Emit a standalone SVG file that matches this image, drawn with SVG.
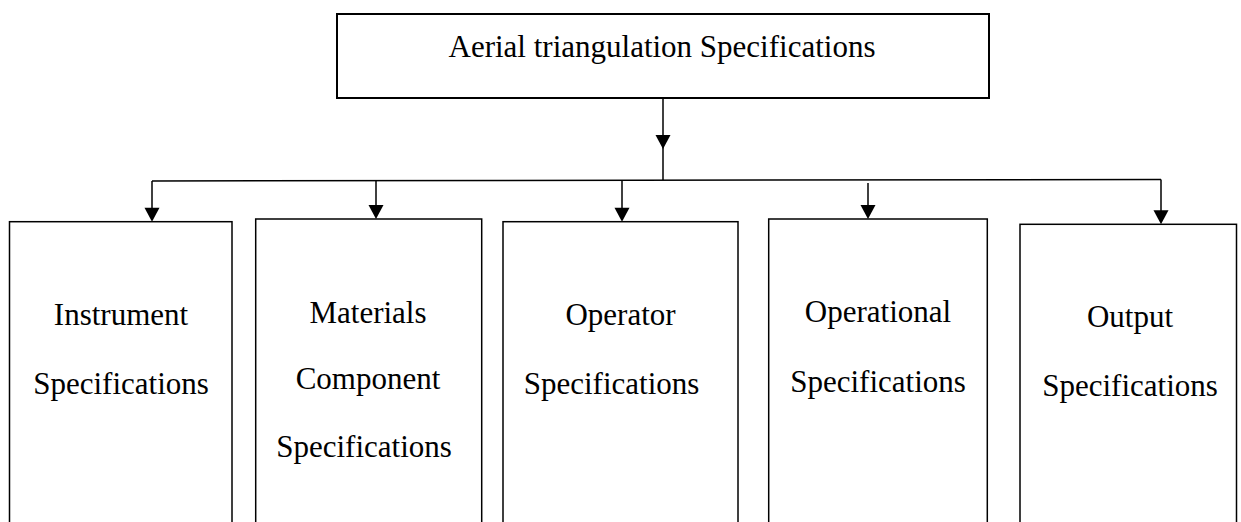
<svg xmlns="http://www.w3.org/2000/svg" width="1241" height="522" viewBox="0 0 1241 522">
  <style>
    .box { fill: #fff; stroke: #000; stroke-width: 1.5; }
    .top { fill: #fff; stroke: #000; stroke-width: 2; }
    .lbl { font-family: "Liberation Serif", "Times New Roman", serif; font-size: 31px; fill: #000; text-anchor: middle; }
    .wire { fill: none; stroke: #000; stroke-width: 1.5; }
    .head { fill: #000; }
  </style>
  <defs>
    <!-- downward arrowhead, tip at the origin -->
    <path id="tip" class="head" d="M-7.5,-14 L7.5,-14 L0,0 Z"/>
  </defs>
  <rect width="1241" height="522" fill="#fff"/>

  <g id="root">
    <rect class="top" x="337" y="14" width="652" height="84"/>
    <text class="lbl" x="662" y="57">Aerial triangulation Specifications</text>
  </g>

  <g id="connectors">
    <!-- trunk from root down to the bus, arrowhead midway -->
    <line class="wire" x1="663" y1="98" x2="663" y2="180"/>
    <use href="#tip" x="663" y="149"/>
    <!-- horizontal bus -->
    <line class="wire" x1="152" y1="181" x2="1161" y2="179.5"/>
    <!-- drops to each child box -->
    <line class="wire" x1="152" y1="181" x2="152" y2="210"/>
    <use href="#tip" x="152" y="221.7"/>
    <line class="wire" x1="376" y1="181" x2="376" y2="207"/>
    <use href="#tip" x="376" y="219"/>
    <line class="wire" x1="622" y1="180.5" x2="622" y2="210"/>
    <use href="#tip" x="622" y="221.7"/>
    <line class="wire" x1="868" y1="183" x2="868" y2="207"/>
    <use href="#tip" x="868" y="219"/>
    <line class="wire" x1="1161" y1="179.5" x2="1161" y2="212"/>
    <use href="#tip" x="1161" y="224.3"/>
  </g>

  <g id="instrument">
    <rect class="box" x="9.5" y="221.7" width="222.5" height="320"/>
    <text class="lbl" x="121" y="325">Instrument</text>
    <text class="lbl" x="121" y="394">Specifications</text>
  </g>

  <g id="materials">
    <rect class="box" x="255.7" y="219" width="226" height="320"/>
    <text class="lbl" x="368" y="323">Materials</text>
    <text class="lbl" x="368" y="389">Component</text>
    <text class="lbl" x="364" y="457">Specifications</text>
  </g>

  <g id="operator">
    <rect class="box" x="503" y="221.7" width="235" height="320"/>
    <text class="lbl" x="620.5" y="325">Operator</text>
    <text class="lbl" x="611.5" y="394">Specifications</text>
  </g>

  <g id="operational">
    <rect class="box" x="768.7" y="219" width="218.6" height="320"/>
    <text class="lbl" x="878" y="322">Operational</text>
    <text class="lbl" x="878" y="392">Specifications</text>
  </g>

  <g id="output">
    <rect class="box" x="1020" y="224.3" width="216.5" height="320"/>
    <text class="lbl" x="1130" y="327">Output</text>
    <text class="lbl" x="1130" y="396">Specifications</text>
  </g>
</svg>
